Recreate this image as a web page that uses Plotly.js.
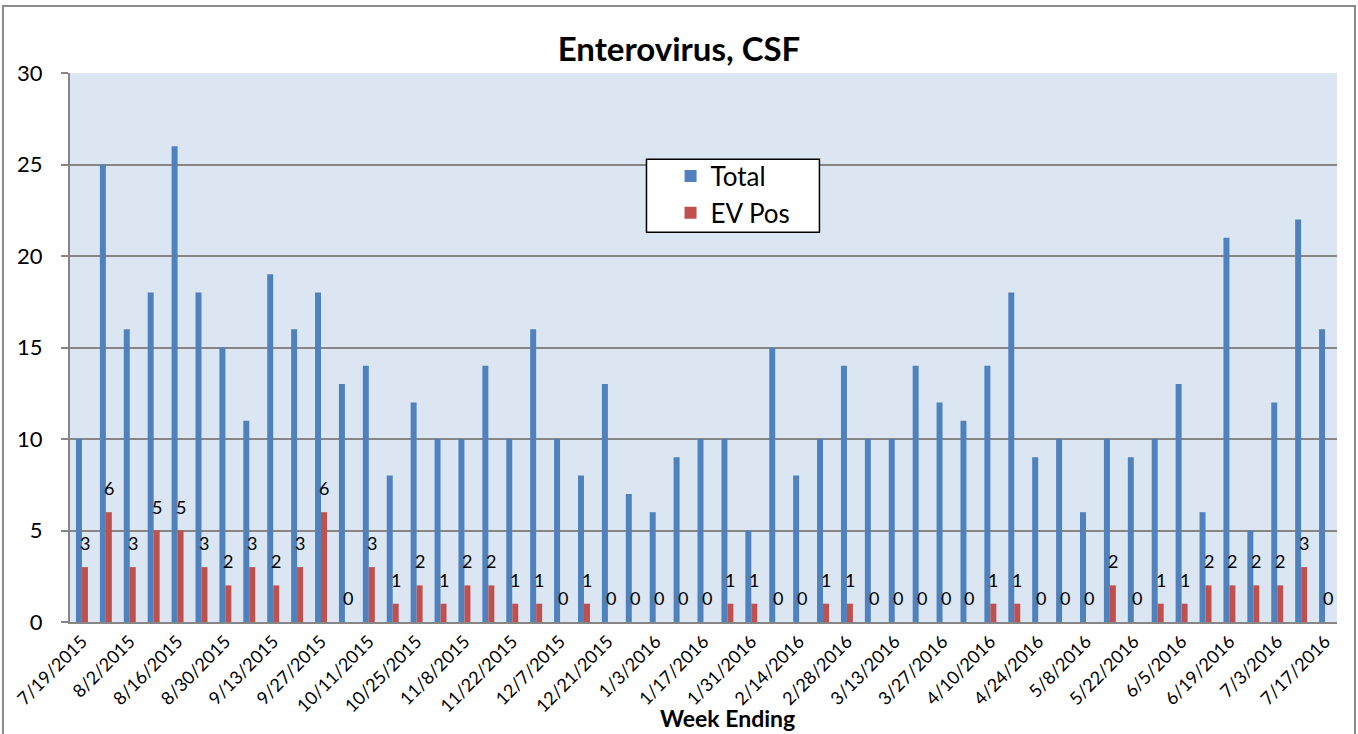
<!DOCTYPE html>
<html>
<head>
<meta charset="utf-8">
<script src="https://cdn.plot.ly/plotly-3.0.1.min.js"></script>
<style>html,body{margin:0;padding:0;background:#fff;}#chart{width:1358px;height:734px;}</style>
</head>
<body>
<div id="chart"></div>
<script>
const weeks = [
  "7/19/2015","7/26/2015","8/2/2015","8/9/2015","8/16/2015","8/23/2015","8/30/2015","9/6/2015",
  "9/13/2015","9/20/2015","9/27/2015","10/4/2015","10/11/2015","10/18/2015","10/25/2015","11/1/2015",
  "11/8/2015","11/15/2015","11/22/2015","11/29/2015","12/7/2015","12/14/2015","12/21/2015","12/27/2015",
  "1/3/2016","1/10/2016","1/17/2016","1/24/2016","1/31/2016","2/7/2016","2/14/2016","2/21/2016",
  "2/28/2016","3/6/2016","3/13/2016","3/20/2016","3/27/2016","4/3/2016","4/10/2016","4/17/2016",
  "4/24/2016","5/1/2016","5/8/2016","5/15/2016","5/22/2016","5/29/2016","6/5/2016","6/12/2016",
  "6/19/2016","6/26/2016","7/3/2016","7/10/2016","7/17/2016"
];
const total = [
  10,25,16,18,26,18,15,11,19,16,18,13,14,8,12,10,10,14,10,16,
  10,8,13,7,6,9,10,10,5,15,8,10,14,10,10,14,12,11,14,18,
  9,10,6,10,9,10,13,6,21,5,12,22,16
];
const evPos = [
  3,6,3,5,5,3,2,3,2,3,6,0,3,1,2,1,2,2,1,1,
  0,1,0,0,0,0,0,1,1,0,0,1,1,0,0,0,0,0,1,1,
  0,0,0,2,0,1,1,2,2,2,2,3,0
];
const shownTicks = weeks.filter((w, i) => i % 2 === 0);

const FONT = "Lato, 'Liberation Sans', sans-serif";

const traces = [
  {type: "bar", name: "Total", x: weeks, y: total, marker: {color: "#4f81bd"}},
  {type: "bar", name: "EV Pos", x: weeks, y: evPos, marker: {color: "#c0504d"}}
];

// data labels for the EV Pos bars, placed at each bar's value
const evLabels = evPos.map((v, i) => ({
  x: weeks[i], y: v, xref: "x", yref: "y", text: String(v), showarrow: false,
  xanchor: "center", yanchor: "middle", xshift: 3, yshift: 24,
  font: {family: FONT, size: 18, color: "#000"}
}));

const layout = {
  width: 1358, height: 734,
  margin: {l: 70, r: 21, t: 73, b: 112},
  paper_bgcolor: "#ffffff",
  plot_bgcolor: "#dce6f2",
  font: {family: FONT, color: "#000"},
  barmode: "group", bargap: 0.5, bargroupgap: 0,
  title: {text: "<b>Enterovirus, CSF</b>", font: {family: FONT, size: 33, color: "#000"},
          x: 0.5, xanchor: "center", y: 0.932, yanchor: "middle", yref: "container"},
  xaxis: {
    type: "category", tickmode: "array", tickvals: shownTicks, ticktext: shownTicks,
    tickangle: -45, tickfont: {family: FONT, size: 18, color: "#000"},
    showline: true, linecolor: "#868686", linewidth: 2, ticks: "", showgrid: false,
    fixedrange: true
  },
  yaxis: {
    range: [0, 30], dtick: 5, tickfont: {family: FONT, size: 22, color: "#000"},
    showline: true, linecolor: "#868686", linewidth: 2,
    ticks: "outside", ticklen: 7, tickcolor: "#868686", tickwidth: 2, ticklabelstandoff: 14,
    gridcolor: "#868686", gridwidth: 2, zeroline: false, fixedrange: true
  },
  showlegend: true,
  legend: {x: 0.474, y: 0.855, xanchor: "left", yanchor: "top", bgcolor: "rgba(0,0,0,0)",
           borderwidth: 0, font: {family: FONT, size: 26, color: "#000"}},
  shapes: [
    {type: "rect", xref: "paper", yref: "paper", x0: 0.455, x1: 0.5915, y0: 0.71, y1: 0.843,
     fillcolor: "#ffffff", line: {color: "#000", width: 1.5}, layer: "above"},
    {type: "rect", xref: "paper", yref: "paper", x0: -0.0529, x1: 1.0142, y0: -0.22, y1: 1.122,
     fillcolor: "rgba(0,0,0,0)", line: {color: "#8c8c8c", width: 2}, layer: "below"}
  ],
  annotations: [
    {text: "<b>Week Ending</b>", xref: "paper", yref: "paper", x: 0.519, y: -0.175,
     xanchor: "center", yanchor: "middle", showarrow: false,
     font: {family: FONT, size: 23, color: "#000"}}
  ].concat(evLabels)
};

Plotly.newPlot("chart", traces, layout, {displayModeBar: false, staticPlot: true});
</script>
</body>
</html>
